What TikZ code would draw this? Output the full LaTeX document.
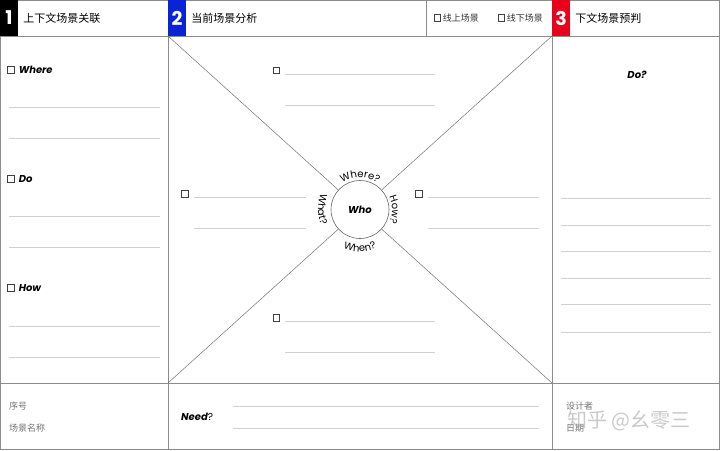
\documentclass[tikz,border=0pt]{standalone}
\usepackage{fontspec}
\setmainfont{Poppins}
\newfontfamily\cjk{Noto Sans CJK SC}
\usepackage{xcolor}
\usepackage{tikz}
\usetikzlibrary{positioning,decorations.text}
\definecolor{badgeblue}{RGB}{10,35,215}
\definecolor{badgered}{RGB}{232,0,28}

\begin{document}
\begin{tikzpicture}[
    x=1pt,y=-1pt,
    frame/.style={draw=black!45,line width=0.8pt},
    rule/.style={draw=black!18,line width=0.6pt},
    diag/.style={draw=black!55,line width=0.5pt},
    badge/.style={text=white,font=\bfseries\fontsize{19}{19}\selectfont,minimum width=18pt,minimum height=36pt,inner sep=0},
    head/.style={font=\cjk\fontsize{11}{12}\selectfont,inner sep=0},
    tag/.style={font=\cjk\fontsize{9}{10}\selectfont,text=black!80,inner sep=0},
    chk/.style={draw=black!75,line width=0.6pt,minimum size=6.5pt,inner sep=0},
    key/.style={font=\bfseries\itshape\fontsize{10}{11}\selectfont,inner sep=0},
    small/.style={font=\cjk\fontsize{9}{10}\selectfont,text=black!55,inner sep=0},
    arcword/.style={decorate,decoration={text along path,text align=center,text={|\fontsize{10}{10}\selectfont|#1}}},
    node distance=4pt
  ]
  \useasboundingbox (0,0) rectangle (720,450);
  % frame and panels
  \draw[frame] (0.4,0.4) rectangle (719.6,449.6);
  \draw[frame] (0,36) -- (720,36);
  \draw[frame] (0,383) -- (720,383);
  \draw[frame] (168,0) -- (168,450);
  \draw[frame] (552,0) -- (552,450);
  \draw[frame] (426,0) -- (426,36);

  % header
  \node[badge,fill=black] (n1) at (9,18) {1};
  \node[head,right=5pt of n1] (h1) {上下文场景关联};
  \node[badge,fill=badgeblue] (n2) at (177,18) {2};
  \node[head,right=5pt of n2] (h2) {当前场景分析};
  \node[badge,fill=badgered] (n3) at (561,18) {3};
  \node[head,right=5pt of n3] (h3) {下文场景预判};
  \node[chk] (online) at (437.5,18) {};
  \node[tag,right=1.5pt of online] {线上场景};
  \node[chk] (offline) at (501.5,18) {};
  \node[tag,right=1.5pt of offline] {线下场景};

  % left column
  \foreach \name/\txt/\y in {where/Where/70,do/Do/179,how/How/288} {
    \node[chk] (\name) at (11,\y) {};
    \node[key,right=4pt of \name] {\txt};
  }
  \foreach \y in {107,138,216,247,326,357}
    \draw[rule] (9,\y) -- (160,\y);

  % centre panel
  \coordinate (nw) at (168,36);
  \coordinate (ne) at (552,36);
  \coordinate (sw) at (168,383);
  \coordinate (se) at (552,383);
  \node[circle,draw=black!60,line width=0.6pt,minimum size=58pt,inner sep=0,font=\bfseries\itshape\fontsize{10}{11}\selectfont] (who) at (360,209.5) {Who};
  \foreach \c in {nw,ne,sw,se}
    \draw[diag] (\c) -- (who);
  \path[arcword=Where?] ([shift={(150:32pt)}]who.center) arc[start angle=150,end angle=30,radius=32pt];
  \path[arcword=How?] ([shift={(45:32pt)}]who.center) arc[start angle=45,end angle=-45,radius=32pt];
  \path[arcword=What?] ([shift={(135:42pt)}]who.center) arc[start angle=135,end angle=225,radius=42pt];
  \path[arcword=When?] ([shift={(230:42pt)}]who.center) arc[start angle=230,end angle=310,radius=42pt];
  \foreach \name/\x/\y/\w in {qtop/276.5/70.5/150,qleft/185/194/112,qright/419/194/111,qbottom/276.5/318/150} {
    \node[chk] (\name) at (\x,\y) {};
    \draw[rule] (\x+8.5,\y+3.5) -- ++(\w,0);
    \draw[rule] (\x+8.5,\y+34.5) -- ++(\w,0);
  }

  % right column
  \node[key] (next) at (637,75) {Do?};
  \foreach \y in {198,225,251,278,304,332}
    \draw[rule] (561,\y) -- (711,\y);

  % footer
  \node[small,anchor=west] (seq) at (9,406) {序号};
  \node[small,anchor=west] (scene) at (9,428) {场景名称};
  \node[key,anchor=west] (need) at (181,417) {Need{\normalfont ?}};
  \draw[rule] (233,406) -- (539,406);
  \draw[rule] (233,428) -- (539,428);
  \node[small,anchor=west] (designer) at (566,406) {设计者};
  \node[small,anchor=west] (date) at (566,428) {日期};
  \node[font=\cjk\fontsize{20}{22}\selectfont,text=black!35,opacity=0.6,anchor=west,inner sep=0] (mark) at (567,421) {知乎 @幺零三};
\end{tikzpicture}
\end{document}
